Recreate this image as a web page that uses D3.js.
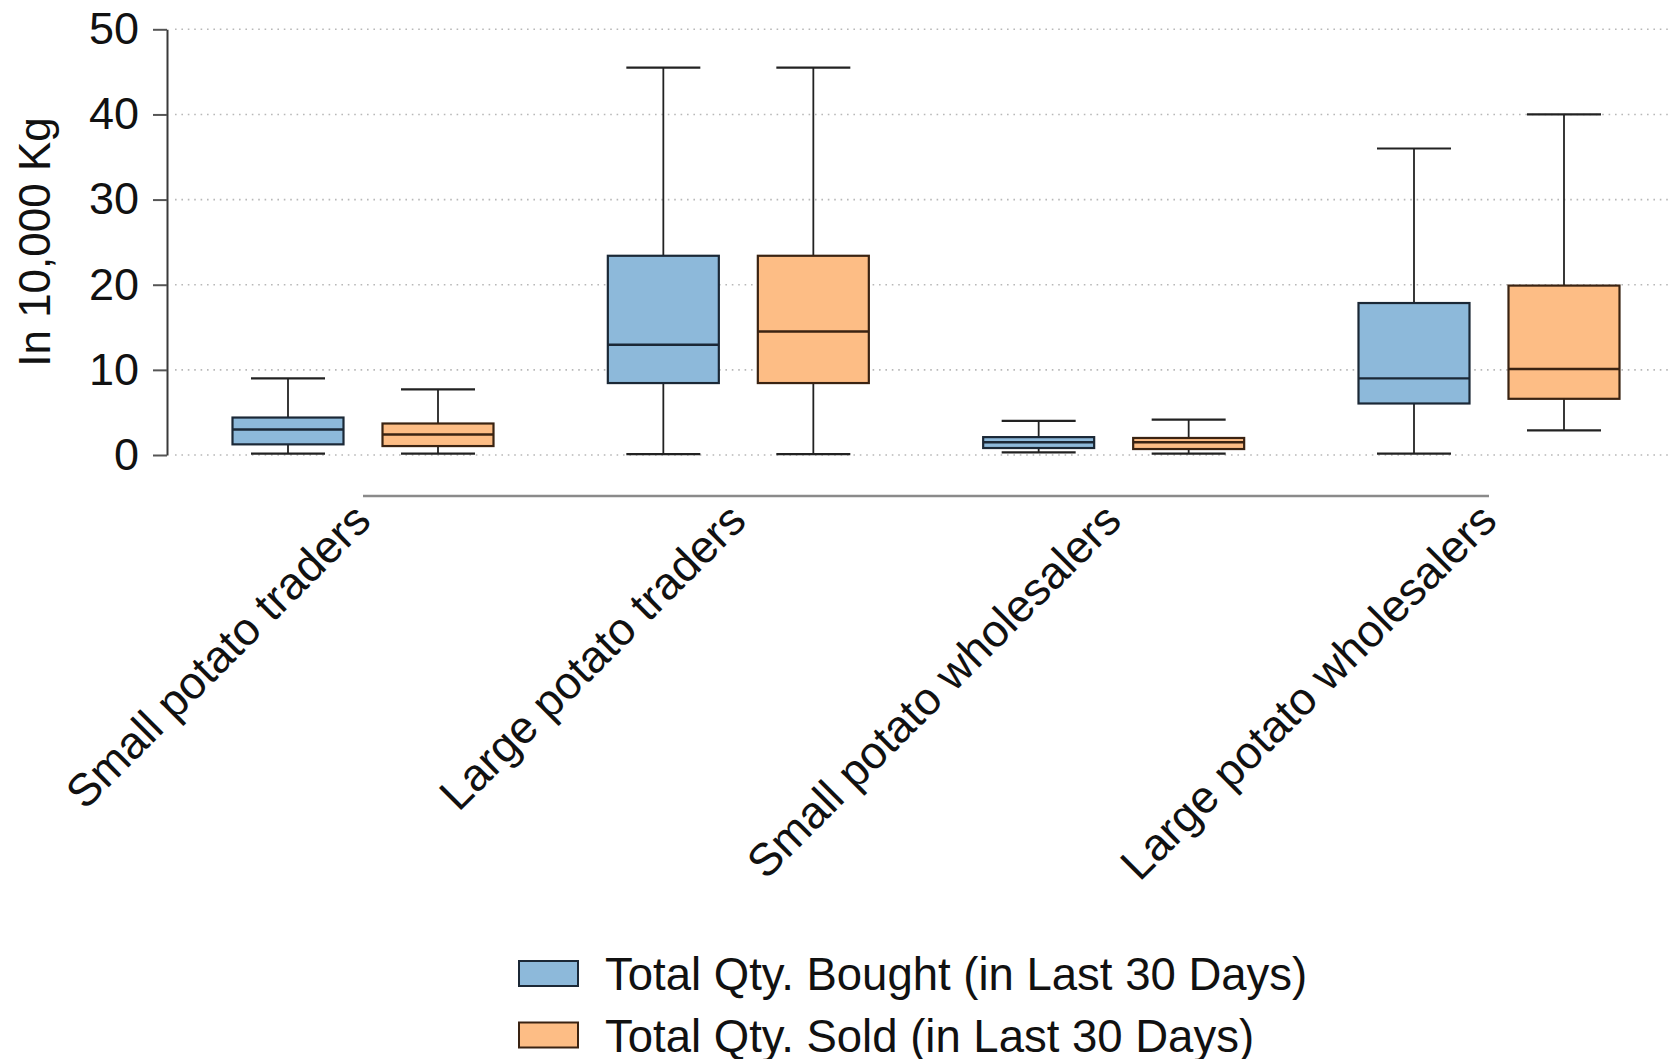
<!DOCTYPE html>
<html>
<head>
<meta charset="utf-8">
<script src="https://cdn.jsdelivr.net/npm/d3@7"></script>
<style>
  html, body { margin: 0; padding: 0; background: #fff; }
  svg { display: block; }
  text { font-family: "Liberation Sans", Arial, sans-serif; fill: #111; }
</style>
</head>
<body>
<svg id="chart" width="1670" height="1059"></svg>
<script>
// Groups on the category axis
const categories = [
  "Small potato traders",
  "Large potato traders",
  "Small potato wholesalers",
  "Large potato wholesalers"
];

// Two quantities compared within each group
const series = [
  "Total Qty. Bought (in Last 30 Days)",
  "Total Qty. Sold (in Last 30 Days)"
];

// Box statistics per group, in 10,000 kg: [lower whisker, q1, median, q3, upper whisker]
const boughtStats = [
  [0.15, 1.25, 3.0, 4.4, 9.0],
  [0.1, 8.45, 12.95, 23.4, 45.5],
  [0.3, 0.82, 1.5, 2.1, 4.0],
  [0.15, 6.05, 9.0, 17.85, 36.0]
];
const soldStats = [
  [0.15, 1.05, 2.4, 3.7, 7.7],
  [0.1, 8.45, 14.5, 23.4, 45.5],
  [0.15, 0.7, 1.5, 2.0, 4.15],
  [2.9, 6.6, 10.1, 19.9, 40.0]
];

const yTicks = [0, 10, 20, 30, 40, 50];
const yTitle = "In 10,000 Kg";

const fills = ["#8db9da", "#fdbd85"];
const outlines = ["#1b2836", "#3a2312"];

const svg = d3.select("#chart");
const W = 1670;

const y = d3.scaleLinear().domain([0, 50]).range([455, 29.3]);
const xGroup = d3.scalePoint().domain(categories).range([363, 1489]);
const xSeries = d3.scaleBand().domain(series).range([-150, 150]);
const boxW = xSeries.bandwidth() * 0.74;
const capW = boxW * 2 / 3;

// Dotted horizontal grid
svg.append("g")
  .selectAll("line")
  .data(yTicks)
  .join("line")
  .attr("x1", 175).attr("x2", W)
  .attr("y1", d => y(d)).attr("y2", d => y(d))
  .attr("stroke", "#b8b8b8")
  .attr("stroke-width", 1.6)
  .attr("stroke-dasharray", "1.6,4.8");

// Y axis
const yAxis = svg.append("g")
  .attr("transform", "translate(167,0)")
  .call(d3.axisLeft(y).tickValues(yTicks).tickSize(14).tickSizeOuter(0).tickPadding(14).tickFormat(d3.format("d")));
yAxis.select(".domain").attr("stroke", "#3a3a3a").attr("stroke-width", 2);
yAxis.selectAll(".tick line").attr("stroke", "#555").attr("stroke-width", 2);
yAxis.selectAll(".tick text")
  .attr("font-size", 45)
  .attr("font-family", "'Liberation Sans', Arial, sans-serif")
  .attr("fill", "#111");

svg.append("text")
  .attr("transform", "translate(50,242) rotate(-90)")
  .attr("text-anchor", "middle")
  .attr("font-size", 44)
  .text(yTitle);

// Category axis line
svg.append("line")
  .attr("x1", xGroup(categories[0])).attr("x2", xGroup(categories[categories.length - 1]))
  .attr("y1", 496).attr("y2", 496)
  .attr("stroke", "#8a8a8a")
  .attr("stroke-width", 2.5);

// Category labels
svg.append("g")
  .selectAll("text")
  .data(categories)
  .join("text")
  .attr("transform", d => `translate(${xGroup(d) + 10},523) rotate(-45)`)
  .attr("text-anchor", "end")
  .attr("font-size", 45.5)
  .text(d => d);

// Boxes
const allStats = [boughtStats, soldStats];
const boxes = [];
series.forEach((s, si) => {
  categories.forEach((c, ci) => {
    const [lo, q1, med, q3, hi] = allStats[si][ci];
    boxes.push({ s, si, c, lo, q1, med, q3, hi, cx: xGroup(c) + xSeries(s) + xSeries.bandwidth() / 2 });
  });
});

const gBox = svg.append("g").selectAll("g").data(boxes).join("g");

// whiskers
gBox.append("line")
  .attr("x1", d => d.cx).attr("x2", d => d.cx)
  .attr("y1", d => y(d.q3)).attr("y2", d => y(d.hi))
  .attr("stroke", "#222").attr("stroke-width", 1.8);
gBox.append("line")
  .attr("x1", d => d.cx).attr("x2", d => d.cx)
  .attr("y1", d => y(d.q1)).attr("y2", d => y(d.lo))
  .attr("stroke", "#222").attr("stroke-width", 1.8);
gBox.append("line")
  .attr("x1", d => d.cx - capW / 2).attr("x2", d => d.cx + capW / 2)
  .attr("y1", d => y(d.hi)).attr("y2", d => y(d.hi))
  .attr("stroke", "#222").attr("stroke-width", 2.2);
gBox.append("line")
  .attr("x1", d => d.cx - capW / 2).attr("x2", d => d.cx + capW / 2)
  .attr("y1", d => y(d.lo)).attr("y2", d => y(d.lo))
  .attr("stroke", "#222").attr("stroke-width", 2.2);

// box body
gBox.append("rect")
  .attr("x", d => d.cx - boxW / 2)
  .attr("width", boxW)
  .attr("y", d => y(d.q3))
  .attr("height", d => y(d.q1) - y(d.q3))
  .attr("fill", d => fills[d.si])
  .attr("stroke", d => outlines[d.si])
  .attr("stroke-width", 2.2);

// median
gBox.append("line")
  .attr("x1", d => d.cx - boxW / 2).attr("x2", d => d.cx + boxW / 2)
  .attr("y1", d => y(d.med)).attr("y2", d => y(d.med))
  .attr("stroke", d => outlines[d.si]).attr("stroke-width", 2.4);

// Legend
const legend = svg.append("g")
  .selectAll("g")
  .data(series)
  .join("g")
  .attr("transform", (d, i) => `translate(519,${961 + i * 61.5})`);
legend.append("rect")
  .attr("width", 59).attr("height", 25)
  .attr("fill", (d, i) => fills[i])
  .attr("stroke", (d, i) => outlines[i])
  .attr("stroke-width", 2);
legend.append("text")
  .attr("x", 86).attr("y", 29)
  .attr("font-size", 45.5)
  .text(d => d);
</script>
</body>
</html>
